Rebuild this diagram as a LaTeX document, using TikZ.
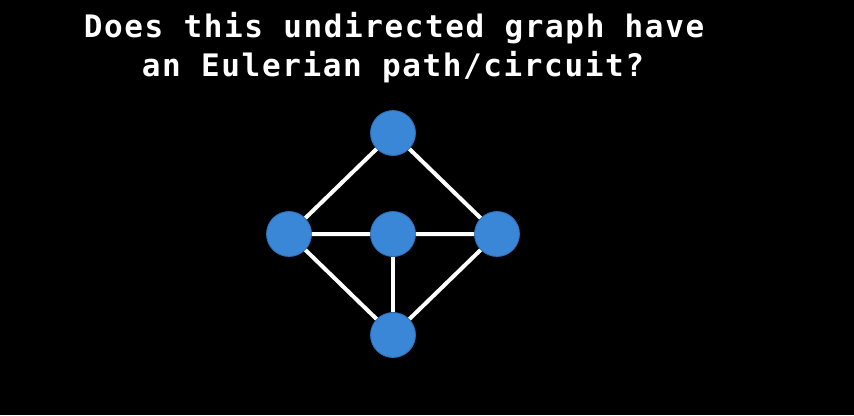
\documentclass[tikz,border=0pt]{standalone}
\usepackage{fontspec}
\setmonofont{DejaVu Sans Mono}
\newfontfamily\titlefont[LetterSpace=5.2]{DejaVu Sans Mono}
\usetikzlibrary{positioning}
\definecolor{mblue}{HTML}{3A87D8}
\definecolor{mline}{HTML}{2A6FB8}
\tikzstyle{vert}=[circle, draw=mline, fill=mblue, minimum size=45pt, line width=0.8, inner sep=0pt]
\tikzstyle{l1}=[line width=4, draw=white]
\tikzstyle{title}=[text=white, anchor=base, font=\fontsize{31}{39}\selectfont\titlefont\bfseries]

\begin{document}
\begin{tikzpicture}[x=1pt,y=-1pt]
    \fill[black] (0,0) rectangle (854,415);
    \useasboundingbox (0,0) rectangle (854,415);

    \node[title] (t1) at (394,37) {Does this undirected graph have};
    \node[title] (t2) at (393,76) {an Eulerian path/circuit?};

    \node[vert] (a) at (393,133) {};
    \node[vert] (b) at (289,234) {};
    \node[vert] (c) at (393,234) {};
    \node[vert] (d) at (497,234) {};
    \node[vert] (e) at (393,335) {};
    \draw[l1] (a) -- (b) -- (c) -- (d) -- (a);
    \draw[l1] (b) -- (e) -- (d);
    \draw[l1] (c) -- (e);
\end{tikzpicture}
\end{document}
